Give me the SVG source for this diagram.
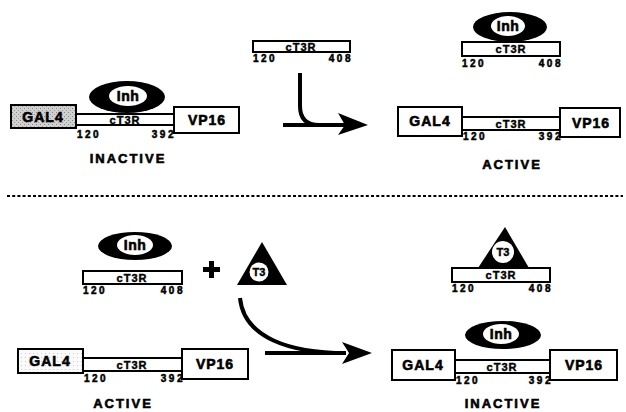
<svg xmlns="http://www.w3.org/2000/svg" width="626" height="412" viewBox="0 0 626 412">
<defs>
<pattern id="stip" width="4" height="4" patternUnits="userSpaceOnUse">
<rect width="4" height="4" fill="#d0d0d0"/>
<rect x="0" y="0" width="1" height="1" fill="#888"/>
<rect x="2" y="2" width="1" height="1" fill="#999"/>
</pattern>
<pattern id="stipL" width="4" height="4" patternUnits="userSpaceOnUse">
<rect width="4" height="4" fill="#fafafa"/>
<rect x="1" y="1" width="1" height="1" fill="#ccc"/>
</pattern>
</defs>
<style>
.box{fill:#fff;stroke:#000;stroke-width:2}
.bar{fill:#fff;stroke:#000;stroke-width:2}
.lbl{font-family:"Liberation Sans",Arial,sans-serif;font-weight:bold;fill:#000;stroke:#000;stroke-width:0.6;text-anchor:middle}
.big{font-size:14px;letter-spacing:1px}
.mid{font-size:11px;letter-spacing:1px;stroke-width:0.4}
.inh{font-size:14px;letter-spacing:0.5px}
.t3{font-size:11px;stroke-width:0.4}
.num{font-family:"Liberation Sans",Arial,sans-serif;font-weight:bold;font-size:10px;letter-spacing:2.5px;fill:#000;stroke:#000;stroke-width:0.5}
.state{font-size:13px;letter-spacing:2px}
.blk{fill:#000}
.wht{fill:#fff}
.conn{fill:none;stroke:#000;stroke-width:4}
</style>
<rect width="626" height="412" fill="#fff"/>

<g id="top-left-construct">
<rect class="box" x="11" y="105" width="65" height="23" style="fill:url(#stip)"/>
<text class="lbl big" x="43" y="122">GAL4</text>
<rect class="bar" x="76" y="114" width="98" height="11"/>
<text class="lbl mid" x="125" y="123.5">cT3R</text>
<rect class="box" x="174" y="107" width="65" height="26"/>
<text class="lbl big" x="207" y="125">VP16</text>
<ellipse class="blk" cx="127" cy="97" rx="38" ry="16"/>
<ellipse class="wht" cx="128" cy="96" rx="19" ry="10"/>
<text class="lbl inh" x="128" y="101">Inh</text>
<text class="num" x="77" y="138">120</text>
<text class="num" x="176" y="138" text-anchor="end">392</text>
<text class="lbl state" x="128" y="163">INACTIVE</text>
</g>

<g id="top-free-receptor">
<rect class="bar" x="253" y="41" width="97" height="11"/>
<text class="lbl mid" x="301" y="50.5">cT3R</text>
<text class="num" x="253" y="62">120</text>
<text class="num" x="353" y="62" text-anchor="end">408</text>
</g>

<g id="top-right-complex">
<ellipse class="blk" cx="510" cy="27" rx="37" ry="15"/>
<ellipse class="wht" cx="508" cy="26" rx="17" ry="10"/>
<text class="lbl inh" x="508" y="31">Inh</text>
<rect class="bar" x="462" y="42" width="98" height="14"/>
<text class="lbl mid" x="511" y="53">cT3R</text>
<text class="num" x="462" y="67">120</text>
<text class="num" x="563" y="67" text-anchor="end">408</text>
</g>

<g id="top-right-construct">
<rect class="box" x="398" y="107" width="64" height="29"/>
<text class="lbl big" x="430" y="126">GAL4</text>
<rect class="bar" x="462" y="117" width="98" height="13"/>
<text class="lbl mid" x="511" y="127.5">cT3R</text>
<rect class="box" x="560" y="108" width="60" height="29"/>
<text class="lbl big" x="591" y="128">VP16</text>
<text class="num" x="463" y="140">120</text>
<text class="num" x="563" y="140" text-anchor="end">392</text>
<text class="lbl state" x="512" y="169">ACTIVE</text>
</g>

<g id="bottom-left-complex">
<ellipse class="blk" cx="135" cy="246" rx="37" ry="14"/>
<ellipse class="wht" cx="135" cy="245" rx="18" ry="10"/>
<text class="lbl inh" x="135" y="250">Inh</text>
<rect class="bar" x="83" y="271" width="99" height="13"/>
<text class="lbl mid" x="132" y="281.5">cT3R</text>
<text class="num" x="83" y="294">120</text>
<text class="num" x="185" y="294" text-anchor="end">408</text>
</g>

<g id="plus">
<rect class="blk" x="203" y="267" width="17" height="5"/>
<rect class="blk" x="209" y="261" width="5" height="17"/>
</g>

<g id="t3-free">
<polygon class="blk" points="262,242 287,285 237,285"/>
<circle class="wht" cx="259" cy="272" r="9.5"/>
<text class="lbl t3" x="259" y="276">T3</text>
</g>

<g id="bottom-right-complex">
<polygon class="blk" points="505,227 529,268 478,268"/>
<circle class="wht" cx="503" cy="252" r="11"/>
<text class="lbl t3" x="503" y="256" font-size="12">T3</text>
<rect class="bar" x="452" y="268" width="98" height="14"/>
<text class="lbl mid" x="501" y="279">cT3R</text>
<text class="num" x="452" y="292">120</text>
<text class="num" x="553" y="292" text-anchor="end">408</text>
</g>

<g id="bottom-left-construct">
<rect class="box" x="18" y="349" width="65" height="24" style="fill:url(#stipL)"/>
<text class="lbl big" x="50" y="366">GAL4</text>
<rect class="bar" x="83" y="358" width="99" height="13"/>
<text class="lbl mid" x="132" y="368.5">cT3R</text>
<rect class="box" x="182" y="349" width="66" height="30"/>
<text class="lbl big" x="215" y="369">VP16</text>
<text class="num" x="84" y="382">120</text>
<text class="num" x="185" y="382" text-anchor="end">392</text>
<text class="lbl state" x="123" y="408">ACTIVE</text>
</g>

<g id="bottom-right-construct">
<rect class="box" x="392" y="350" width="63" height="30"/>
<text class="lbl big" x="423" y="370">GAL4</text>
<rect class="bar" x="455" y="360" width="95" height="13"/>
<text class="lbl mid" x="502" y="370.5">cT3R</text>
<rect class="box" x="550" y="350" width="67" height="30"/>
<text class="lbl big" x="584" y="370">VP16</text>
<ellipse class="blk" cx="503" cy="335" rx="38" ry="14"/>
<ellipse class="wht" cx="501" cy="334" rx="18" ry="10"/>
<text class="lbl inh" x="501" y="339">Inh</text>
<text class="num" x="456" y="384">120</text>
<text class="num" x="553" y="384" text-anchor="end">392</text>
<text class="lbl state" x="503" y="408">INACTIVE</text>
</g>

<g id="connectors">
<line x1="7" y1="196" x2="623" y2="196" stroke="#000" stroke-width="2" stroke-dasharray="3 2.2"/>
<path class="conn" d="M300 73 L300 106 Q300 125 319 125"/>
<line class="conn" x1="283" y1="125" x2="346" y2="125"/>
<polygon class="blk" points="338,113 368,125 338,135 345,125"/>
<path class="conn" d="M240 298 C244 338 290 353 346 353"/>
<line class="conn" x1="265" y1="353" x2="346" y2="353"/>
<polygon class="blk" points="342,342 372,353 342,364 349,353"/>
</g>
</svg>
